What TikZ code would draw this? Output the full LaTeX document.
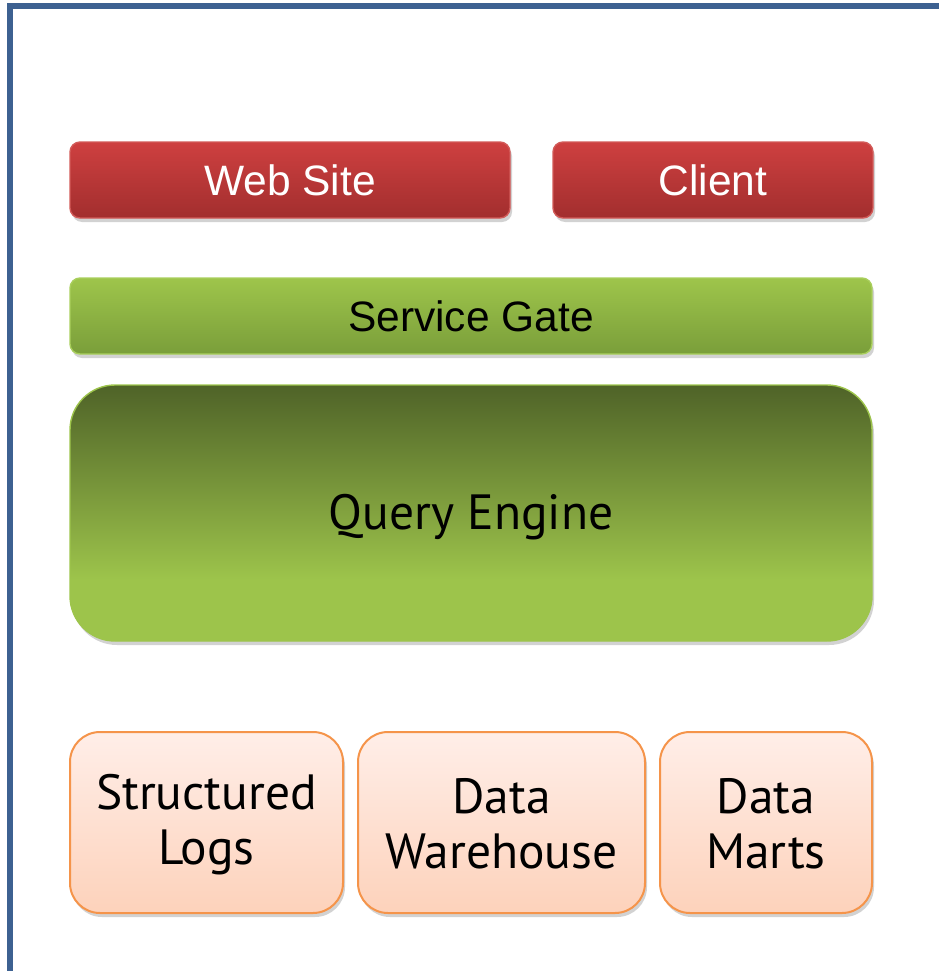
\documentclass[tikz,border=0pt]{standalone}
\usepackage{fontspec}
\usetikzlibrary{shadows}
\newfontfamily\labelsans{Liberation Sans}
\newfontfamily\boxsans{PT Sans}

\definecolor{framecol}{HTML}{3D6191}
\definecolor{redtop}{HTML}{CE4040}
\definecolor{redbot}{HTML}{A22E2E}
\definecolor{redline}{HTML}{D25A58}
\definecolor{gatetop}{HTML}{9EC54B}
\definecolor{gatebot}{HTML}{7A9E3A}
\definecolor{gateline}{HTML}{A9CF5C}
\definecolor{qetop}{HTML}{4F6328}
\definecolor{qebot}{HTML}{9DC44B}
\definecolor{orangetop}{HTML}{FFEEE8}
\definecolor{orangebot}{HTML}{FDD2BB}
\definecolor{orangeline}{HTML}{F5944A}

% dark at the top, reaching the light green about three quarters of the way down
\pgfdeclareverticalshading{queryshade}{100bp}{%
  color(0bp)=(qebot); color(25bp)=(qebot); color(37bp)=(qebot);
  color(75bp)=(qetop); color(100bp)=(qetop)}

\tikzset{
  softshadow/.style={drop shadow={shadow xshift=2pt, shadow yshift=-4pt,
      opacity=0.25, fill=black!70}},
  basebox/.style={inner sep=0pt, align=center, line width=1.4pt, softshadow},
  redbox/.style={basebox, rounded corners=10pt, draw=redline,
      top color=redtop, bottom color=redbot, text=white,
      font=\labelsans\fontsize{42.5}{50}\selectfont},
  gatebox/.style={basebox, rounded corners=10pt, draw=gateline,
      top color=gatetop, bottom color=gatebot, text=black,
      font=\labelsans\fontsize{42.5}{50}\selectfont},
  querybox/.style={basebox, rounded corners=45pt, draw=qebot,
      shading=queryshade},
  storebox/.style={basebox, line width=2pt, rounded corners=30pt,
      draw=orangeline, top color=orangetop, bottom color=orangebot},
  boxtext/.style={inner sep=0pt, align=center, text=black,
      font=\boxsans\fontsize{49.5}{55}\selectfont},
}

\begin{document}
\begin{tikzpicture}[x=1pt, y=-1pt]
\useasboundingbox (0,0) rectangle (938,971);

% outer frame, open to the right and bottom
\draw[framecol, line width=6pt] (10,980) -- (10,6.5) -- (945,6.5);

% clients
\node[redbox, minimum width=440pt, minimum height=76pt] (web) at (290,180) {Web Site};
\node[redbox, minimum width=320pt, minimum height=76pt] (client) at (713,180) {Client};

% service layer
\node[gatebox, minimum width=802pt, minimum height=76pt] (gate) at (471,316) {Service Gate};
\node[querybox, minimum width=802pt, minimum height=256pt] (query) at (471,513) {};
\node[boxtext] (query-text) at ([yshift=-4pt]query.center) {Query Engine};

% data stores
\node[storebox, minimum width=273pt, minimum height=181pt] (logs) at (206.5,822.5) {};
\node[storebox, minimum width=287pt, minimum height=181pt] (dwh) at (501.5,822.5) {};
\node[storebox, minimum width=212pt, minimum height=181pt] (marts) at (766,822.5) {};
\node[boxtext] (logs-text) at ([yshift=-2pt]logs.center) {Structured\\Logs};
\node[boxtext] (dwh-text) at ([yshift=-1pt]dwh.center) {Data\\Warehouse};
\node[boxtext] (marts-text) at ([yshift=-1pt]marts.center) {Data\\Marts};
\end{tikzpicture}
\end{document}
